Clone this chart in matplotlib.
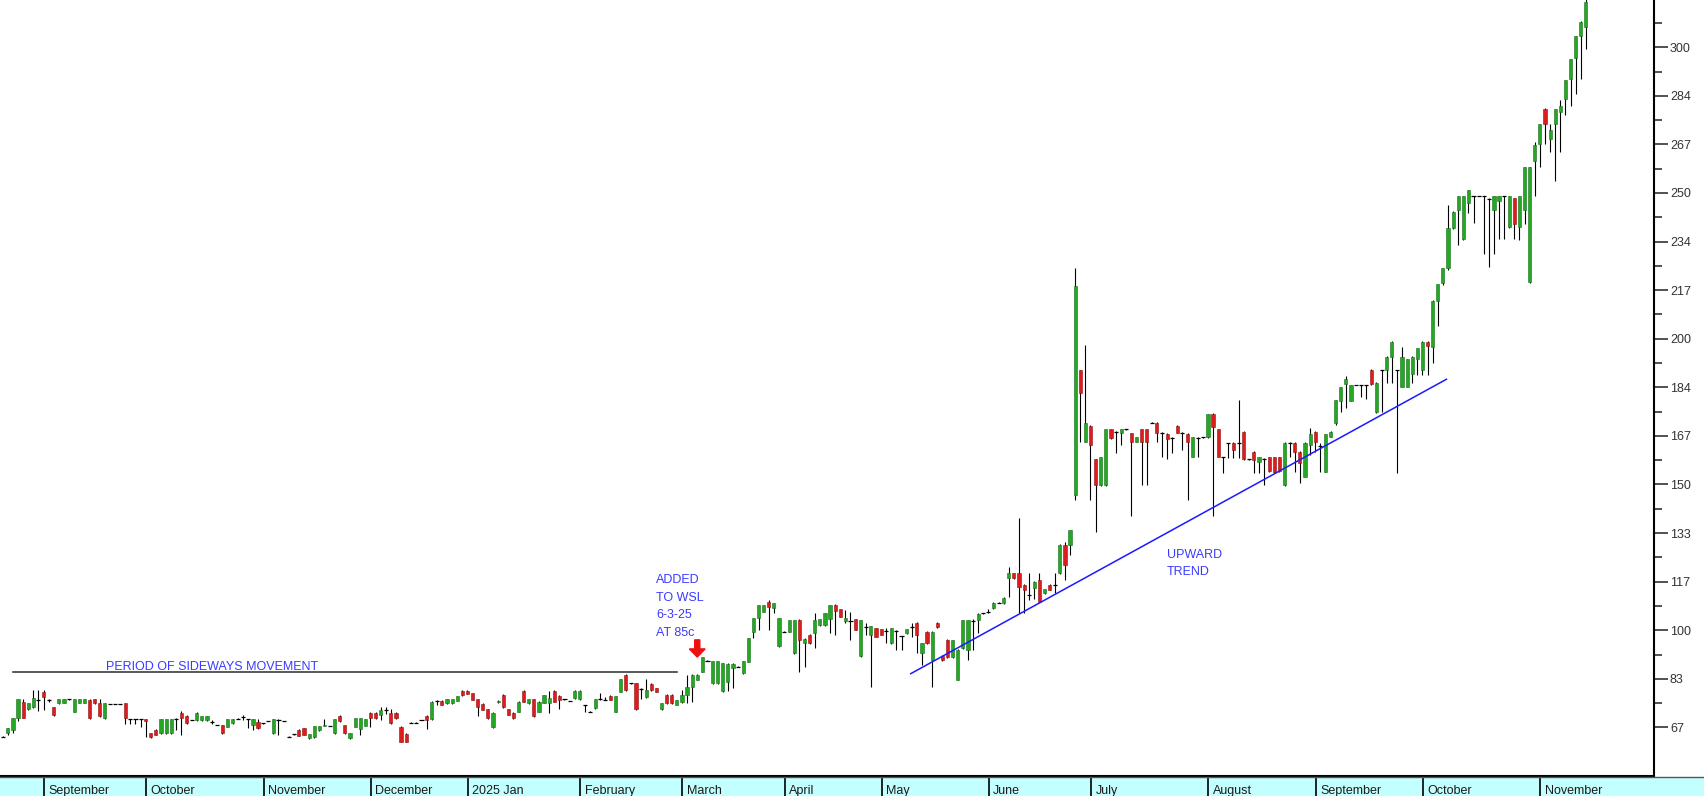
import matplotlib
matplotlib.use("Agg")
import matplotlib.pyplot as plt
import numpy as np

plt.rcParams['font.family'] = ['Liberation Sans', 'DejaVu Sans']

# daily candles (open, high, low, close)
aug24 = [(63.5, 63.8, 63.3, 63.5), (64.6, 66.5, 63.9, 66.3), (65.8, 69.9, 64.6, 69.8), (69.8, 76.5, 69.0, 76.4),
         (75.5, 76.5, 69.8, 69.9), (72.9, 75.2, 72.5, 74.9), (73.6, 79.5, 73.4, 76.7), (76.0, 79.5, 72.4, 76.2)]
sep24 = [(78.9, 79.5, 72.6, 77.2), (76.3, 76.5, 75.5, 76.2), (73.5, 73.6, 70.6, 70.8), (75.0, 76.5, 74.8, 76.3),
         (75.2, 76.5, 75.0, 76.3), (76.3, 76.4, 76.2, 76.3), (72.1, 76.5, 72.0, 76.3), (75.2, 76.4, 75.0, 76.3),
         (75.2, 76.4, 75.0, 76.3), (76.1, 76.3, 69.6, 69.8), (76.3, 76.5, 74.8, 74.9), (74.9, 76.3, 70.3, 70.6),
         (69.8, 75.0, 69.5, 74.9), (74.7, 74.8, 74.6, 74.7), (74.7, 74.8, 74.6, 74.7), (74.7, 74.8, 74.6, 74.7),
         (74.9, 75.0, 67.7, 69.8), (69.6, 69.7, 68.0, 69.6), (69.6, 69.7, 67.8, 69.6), (69.6, 69.7, 66.9, 69.5)]
oct24 = [(69.6, 69.7, 63.5, 69.0), (64.6, 64.8, 63.2, 63.3), (65.8, 66.0, 64.0, 64.1), (64.6, 69.7, 64.4, 69.6),
         (64.6, 69.7, 64.4, 69.6), (64.6, 69.6, 64.4, 69.5), (69.6, 69.8, 65.8, 69.5), (71.7, 72.2, 64.1, 69.8),
         (70.6, 70.8, 68.0, 68.1), (69.2, 69.3, 69.1, 69.2), (69.2, 71.8, 69.0, 71.7), (69.2, 70.7, 69.0, 70.5),
         (69.2, 70.7, 69.0, 70.5), (68.4, 69.2, 68.0, 68.5), (67.5, 67.6, 67.4, 67.5), (67.5, 67.6, 64.5, 64.6),
         (66.9, 69.5, 66.8, 69.4), (68.1, 69.5, 68.0, 69.4), (69.7, 69.8, 69.6, 69.7), (70.3, 70.8, 69.2, 70.4),
         (69.5, 69.7, 66.3, 69.4), (67.5, 69.6, 65.8, 69.5), (68.6, 69.5, 66.2, 66.4)]
nov24 = [(68.1, 68.2, 68.0, 68.1), (68.9, 69.0, 68.8, 68.9), (64.6, 69.7, 64.4, 69.5), (69.2, 69.5, 64.1, 69.1),
         (68.9, 69.0, 68.8, 68.9), (63.5, 63.6, 63.4, 63.5), (64.3, 64.4, 64.2, 64.3), (65.8, 66.0, 63.6, 63.7),
         (66.4, 66.6, 64.0, 64.1), (62.9, 64.5, 62.8, 64.4), (63.3, 67.2, 63.1, 67.2), (65.8, 67.3, 65.6, 67.2),
         (67.2, 69.6, 67.0, 67.6), (67.2, 67.3, 67.1, 67.2), (64.6, 69.7, 64.4, 69.5), (70.7, 71.0, 68.6, 68.7),
         (67.5, 67.6, 64.5, 64.6), (62.9, 64.7, 62.7, 64.6), (66.9, 69.9, 66.7, 69.8), (66.0, 69.9, 64.1, 69.8),
         (67.2, 69.6, 67.0, 69.5)]
dec24 = [(71.7, 72.0, 66.9, 69.8), (71.7, 71.9, 69.6, 69.8), (71.0, 73.5, 69.2, 72.6), (72.5, 73.5, 71.4, 72.5),
         (71.7, 73.0, 67.9, 68.1), (71.7, 72.0, 69.6, 69.8), (66.7, 67.0, 61.6, 61.8), (64.4, 64.6, 61.6, 61.8),
         (68.3, 68.4, 68.2, 68.3), (68.3, 68.4, 68.2, 68.3), (69.2, 69.3, 69.1, 69.2), (70.6, 70.8, 66.0, 69.2),
         (69.5, 75.7, 69.3, 75.5), (75.6, 76.1, 74.4, 75.7), (75.8, 76.0, 74.3, 74.4), (74.9, 76.4, 74.7, 76.3),
         (74.9, 76.4, 74.7, 76.3), (75.8, 77.6, 75.6, 77.5), (79.3, 79.5, 77.6, 77.8)]
jan25 = [(79.3, 79.6, 78.0, 78.1), (78.4, 78.6, 75.9, 76.1), (76.3, 76.5, 70.6, 73.5), (74.7, 75.0, 72.5, 72.6),
         (72.9, 73.0, 69.6, 69.8), (66.7, 71.8, 66.5, 71.7), (75.3, 75.9, 75.2, 75.7), (77.8, 78.0, 73.3, 73.5),
         (72.9, 73.0, 70.8, 70.9), (71.7, 72.0, 69.6, 69.8), (72.1, 75.7, 71.8, 75.5), (79.3, 79.5, 75.3, 75.5),
         (74.9, 76.4, 74.7, 76.3), (76.3, 76.5, 70.4, 70.6), (72.1, 75.7, 71.9, 75.5), (75.2, 77.9, 75.0, 77.8),
         (74.9, 79.3, 71.7, 76.6), (79.3, 79.5, 75.3, 75.5), (77.5, 77.7, 72.9, 76.1), (76.3, 76.4, 76.2, 76.3),
         (75.7, 75.8, 75.6, 75.7), (76.7, 79.5, 76.5, 79.3)]
feb25 = [(76.3, 79.5, 76.1, 79.3), (74.4, 74.5, 72.1, 74.2), (72.1, 72.2, 72.0, 72.1), (73.2, 76.4, 73.0, 76.3),
         (76.2, 78.4, 76.0, 76.3), (76.2, 77.2, 76.0, 76.1), (77.5, 77.7, 76.0, 76.1), (72.1, 77.6, 71.9, 77.5),
         (78.9, 83.3, 78.7, 83.2), (84.7, 84.9, 79.3, 79.5), (81.8, 81.9, 81.7, 81.8), (81.8, 82.0, 72.7, 72.9),
         (79.8, 80.1, 76.3, 80.0), (77.0, 83.2, 76.8, 79.5), (81.6, 81.8, 79.3, 79.5), (80.1, 80.3, 78.8, 78.9),
         (72.9, 75.0, 72.7, 74.9), (77.8, 78.0, 74.7, 74.9), (77.8, 78.0, 74.7, 74.9), (74.4, 76.2, 74.2, 76.1)]
mar25 = [(75.5, 79.5, 74.9, 77.8), (77.8, 84.7, 74.9, 80.7), (80.7, 84.9, 75.5, 84.7), (83.0, 84.9, 82.8, 84.7),
         (85.8, 90.9, 85.6, 90.7), (89.6, 89.8, 89.3, 89.5), (81.8, 89.5, 81.6, 89.3), (81.8, 89.5, 81.6, 89.3),
         (79.0, 88.9, 78.8, 88.7), (82.4, 88.6, 79.3, 88.4), (87.0, 88.6, 80.1, 88.4), (87.5, 87.6, 87.4, 87.5),
         (85.3, 89.5, 85.1, 89.3), (89.2, 97.4, 89.0, 97.2), (99.5, 104.2, 97.2, 104.1), (104.1, 108.8, 100.1, 108.7),
         (106.4, 108.8, 106.2, 108.7), (109.8, 110.4, 100.1, 108.1), (107.5, 109.5, 105.8, 109.5), (94.6, 104.3, 94.4, 104.1)]
apr25 = [(99.5, 99.6, 99.4, 99.5), (99.5, 103.6, 99.3, 103.5), (92.1, 103.6, 92.0, 103.5), (103.5, 103.7, 85.8, 96.7),
         (95.5, 97.3, 87.5, 97.0), (98.4, 98.6, 95.4, 95.5), (99.0, 105.8, 93.8, 103.5), (101.8, 103.9, 101.5, 103.8),
         (101.8, 105.9, 101.6, 105.8), (103.8, 108.8, 99.0, 108.7), (108.7, 108.9, 98.4, 106.7), (107.2, 107.4, 104.5, 104.7),
         (103.0, 107.0, 102.4, 104.1), (103.0, 106.4, 96.7, 103.2), (103.8, 104.0, 100.0, 100.1), (91.0, 103.6, 90.8, 103.5),
         (101.2, 102.4, 98.4, 101.0), (98.4, 101.5, 80.7, 101.3), (100.7, 100.9, 97.7, 97.8)]
may25 = [(100.3, 100.5, 98.3, 98.4), (99.5, 100.7, 95.5, 99.6), (95.5, 100.8, 95.3, 100.7), (100.0, 100.1, 93.3, 99.9),
         (97.8, 98.0, 93.3, 97.9), (99.0, 100.4, 98.8, 100.3), (101.0, 102.6, 97.8, 101.1), (102.6, 102.8, 92.1, 98.4),
         (92.1, 95.6, 88.1, 95.5), (99.5, 99.7, 95.4, 95.5), (89.8, 99.6, 80.7, 99.5), (102.6, 102.8, 100.9, 101.0),
         (91.2, 91.4, 89.6, 89.8), (96.7, 96.9, 90.5, 90.7), (90.7, 96.8, 90.5, 96.7), (83.0, 93.4, 82.8, 93.3),
         (93.8, 103.6, 93.6, 103.5), (93.3, 103.6, 89.8, 103.5), (103.0, 103.8, 93.2, 103.2), (103.5, 105.8, 99.0, 105.6),
         (105.8, 105.9, 105.7, 105.8)]
jun25 = [(106.3, 107.2, 105.8, 106.4), (107.5, 109.6, 107.3, 109.5), (109.5, 109.6, 109.4, 109.5), (109.2, 111.3, 109.0, 111.2),
         (117.8, 121.6, 111.5, 119.5), (119.5, 119.7, 117.6, 117.8), (119.5, 138.4, 105.8, 115.0), (115.5, 115.7, 105.8, 113.8),
         (112.0, 119.5, 110.4, 112.1), (114.4, 116.8, 110.6, 116.7), (117.3, 119.5, 109.6, 109.8), (112.7, 114.2, 112.5, 114.1),
         (115.5, 115.7, 113.7, 113.8), (115.5, 119.5, 112.7, 115.6), (119.5, 129.5, 119.3, 129.3), (129.3, 130.4, 117.3, 122.4),
         (129.3, 134.5, 125.8, 134.4), (146.4, 224.2, 144.7, 218.1), (189.3, 189.4, 164.7, 181.3), (164.7, 197.9, 164.5, 171.2)]
jul25 = [(170.1, 170.3, 144.7, 163.6), (158.6, 158.8, 133.8, 149.8), (149.8, 159.4, 149.6, 159.3), (149.8, 169.0, 149.6, 168.9),
         (168.9, 169.1, 165.7, 165.9), (168.0, 168.2, 160.7, 167.9), (167.8, 169.0, 163.6, 168.9), (168.9, 169.0, 168.8, 168.9),
         (167.6, 167.8, 139.2, 164.7), (164.7, 166.3, 164.5, 166.2), (168.9, 169.1, 149.8, 164.7), (168.9, 169.1, 149.8, 164.7),
         (171.2, 171.3, 171.1, 171.2), (171.2, 171.4, 164.7, 167.8), (167.8, 168.0, 159.6, 167.7), (167.3, 167.5, 158.6, 165.5),
         (166.2, 166.4, 160.7, 166.1), (170.1, 170.3, 167.6, 167.8), (167.8, 168.0, 161.8, 167.7), (167.3, 167.5, 144.7, 164.7),
         (159.6, 166.3, 159.4, 166.2), (166.2, 166.4, 159.6, 166.1), (166.2, 166.3, 166.1, 166.2)]
aug25 = [(166.2, 174.3, 166.0, 174.2), (174.2, 174.4, 139.2, 169.6), (168.9, 169.1, 159.4, 159.6), (159.4, 159.6, 153.8, 159.3),
         (164.0, 164.2, 159.0, 164.1), (164.4, 164.6, 159.0, 161.8), (164.4, 179.0, 159.0, 164.3), (168.1, 168.3, 158.4, 158.6),
         (158.6, 158.7, 158.5, 158.6), (161.3, 161.5, 153.8, 158.4), (157.8, 159.4, 153.8, 159.3), (159.0, 159.2, 149.8, 158.9),
         (159.3, 159.5, 154.4, 154.6), (159.3, 159.5, 154.0, 154.2), (159.3, 159.5, 154.4, 154.6), (149.8, 164.5, 149.6, 164.4),
         (164.4, 164.5, 159.6, 164.3), (164.4, 164.6, 154.4, 161.3), (161.3, 161.5, 150.4, 157.3), (152.7, 164.5, 152.5, 164.4)]
sep25 = [(163.6, 169.3, 160.0, 167.3), (168.1, 168.3, 161.3, 164.7), (163.0, 164.4, 154.4, 163.1), (154.4, 167.4, 154.2, 167.3),
         (166.4, 168.2, 166.2, 168.1), (171.0, 179.1, 170.4, 179.0), (178.8, 183.5, 175.0, 183.4), (184.5, 187.2, 176.1, 186.3),
         (178.8, 184.2, 178.6, 184.1), (184.1, 184.2, 184.0, 184.1), (184.1, 184.2, 180.1, 184.0), (184.1, 184.2, 179.2, 184.0),
         (189.3, 189.5, 184.3, 184.5), (174.7, 185.0, 174.5, 184.9), (189.3, 189.4, 175.0, 189.2), (189.3, 194.0, 184.7, 193.9),
         (193.9, 199.1, 184.7, 199.0), (189.3, 189.4, 153.8, 189.2), (183.6, 197.0, 183.4, 193.9), (183.6, 193.0, 183.4, 192.9),
         (187.9, 194.0, 184.7, 193.9)]
oct25 = [(193.0, 196.8, 187.6, 196.7), (189.3, 199.1, 187.6, 199.0), (199.0, 199.1, 187.6, 197.5), (197.3, 213.2, 191.6, 213.1),
         (213.1, 218.9, 204.2, 218.8), (219.0, 224.3, 218.5, 224.2), (224.2, 245.9, 223.6, 237.9), (237.9, 243.7, 237.7, 243.6),
         (244.0, 248.9, 232.2, 248.8), (234.1, 248.9, 233.9, 248.8), (246.5, 251.1, 243.0, 251.0), (249.0, 249.1, 239.6, 248.9),
         (249.0, 249.1, 248.9, 249.0), (249.0, 249.1, 229.1, 248.9), (248.2, 248.3, 224.5, 248.1), (244.0, 249.1, 229.1, 249.0),
         (247.4, 249.1, 234.1, 249.0), (249.0, 249.1, 234.1, 248.9), (238.2, 249.1, 238.0, 249.0), (248.2, 248.3, 234.1, 239.4),
         (238.2, 249.1, 233.7, 249.0), (244.0, 258.9, 239.4, 258.8), (219.3, 258.9, 219.1, 258.8)]
nov25 = [(261.0, 267.5, 248.9, 266.6), (266.8, 273.8, 258.8, 273.6), (278.8, 279.0, 266.8, 273.7), (268.5, 273.7, 264.0, 271.5),
         (273.7, 278.9, 254.0, 278.8), (277.9, 281.9, 264.0, 279.8), (282.2, 288.9, 276.7, 288.8), (289.0, 295.9, 279.8, 295.8),
         (296.3, 304.0, 283.8, 303.9), (304.0, 308.9, 289.0, 308.8), (307.0, 316.5, 299.4, 315.6)]

month_names = ['September', 'October', 'November', 'December', '2025 Jan', 'February', 'March', 'April',
               'May', 'June', 'July', 'August', 'September', 'October', 'November']
month_first = [8, 28, 51, 72, 91, 113, 133, 153, 172, 193, 213, 236, 257, 278, 301]

ytick_vals = [200 / 3, 250 / 3, 100, 350 / 3, 400 / 3, 150, 500 / 3, 550 / 3, 200, 650 / 3, 700 / 3, 250,
              800 / 3, 850 / 3, 300]
ytick_labels = ['67', '83', '100', '117', '133', '150', '167', '184', '200', '217', '234', '250', '267', '284', '300']

# drawn lines: sideways level and upward trend
side_x = [2.0, 132.0]
side_y = [85.8, 85.8]
trend_x = [177.8, 282.7]
trend_y = [85.1, 186.1]

rows = aug24 + sep24 + oct24 + nov24 + dec24 + jan25 + feb25 + mar25 + apr25 + may25 + jun25 + jul25 + aug25 + sep25 + oct25 + nov25
ohlc = np.array(rows)
o, h, l, c = ohlc[:, 0], ohlc[:, 1], ohlc[:, 2], ohlc[:, 3]
x = np.arange(len(ohlc))

W, H = 1704, 796
fig = plt.figure(figsize=(W / 100, H / 100), dpi=100)
ax = fig.add_axes([0, 20 / H, 1654 / W, 776 / H])
band = fig.add_axes([0, 0, 1, 19 / H])

green = '#22A822'
red = '#E01B1B'
bw = 0.62

ax.vlines(x, l, h, color='black', lw=0.8, zorder=2)
up = c - o >= 0.25
dn = o - c >= 0.25
doji = ~(up | dn)
ax.bar(x[up], (c - o)[up], bottom=o[up], width=bw, color=green, edgecolor='#1B6E1B', lw=0.4, zorder=3)
ax.bar(x[dn], (o - c)[dn], bottom=c[dn], width=bw, color=red, edgecolor='#8A1414', lw=0.4, zorder=3)
ax.hlines(c[doji], x[doji] - 0.4, x[doji] + 0.4, color='black', lw=0.9, zorder=3)

ax.plot(side_x, side_y, color='#2b2b2b', lw=1.1, zorder=1)
ax.plot(trend_x, trend_y, color='#1a1aff', lw=1.1, zorder=4)

blue_txt = '#3a3aff'
ax.text(20.2, 86.5, 'PERIOD OF SIDEWAYS MOVEMENT', color=blue_txt, fontsize=9, va='baseline', ha='left')
for k, line in enumerate(['ADDED', 'TO WSL', '6-3-25', 'AT 85c']):
    ax.text(127.9, 117.3 - 6.1 * k, line, color=blue_txt, fontsize=9, va='center', ha='left')
ax.text(228.0, 125.8, 'UPWARD', color=blue_txt, fontsize=9, va='center', ha='left')
ax.text(228.0, 120.0, 'TREND', color=blue_txt, fontsize=9, va='center', ha='left')
ax.arrow(136.0, 96.7, 0, -5.9, width=1.0, head_width=3.1, head_length=2.8,
         length_includes_head=True, color='#ee1111', zorder=5)

ax.set_xlim(-0.53, (1654 - 2.7) / 5.107)
ax.set_ylim(50.0, 316.2)
ax.set_xticks([])
ax.yaxis.tick_right()
ax.set_yticks(ytick_vals)
ax.set_yticklabels(ytick_labels, fontsize=9, color='#333333')
ax.set_yticks([v + 25 / 3 for v in ytick_vals], minor=True)
ax.tick_params(axis='y', which='major', direction='out', length=10, width=1.1, pad=1.5, colors='#222222', labelcolor='#333333')
ax.tick_params(axis='y', which='minor', direction='out', length=5.5, width=1.1, colors='#222222')
for s in ['left', 'top']:
    ax.spines[s].set_visible(False)
ax.spines['right'].set_linewidth(1.5)
ax.spines['bottom'].set_linewidth(1.5)
ax.patch.set_alpha(0)

band.set_facecolor('#C4FFFF')
band.set_xlim(-0.53, (W - 2.7) / 5.107)
band.set_ylim(0, 1)
band.set_xticks([])
band.set_yticks([])
for s in ['left', 'right', 'bottom']:
    band.spines[s].set_visible(False)
band.spines['top'].set_linewidth(1.0)
band.spines['top'].set_color('#555555')
for name, first in zip(month_names, month_first):
    band.axvline(first + 0.1, color='black', lw=1.2)
    band.text(first + 0.95, 0.12, name, fontsize=9, color='#1a1a1a', va='baseline', ha='left')

fig.savefig('out.png', dpi=100)
